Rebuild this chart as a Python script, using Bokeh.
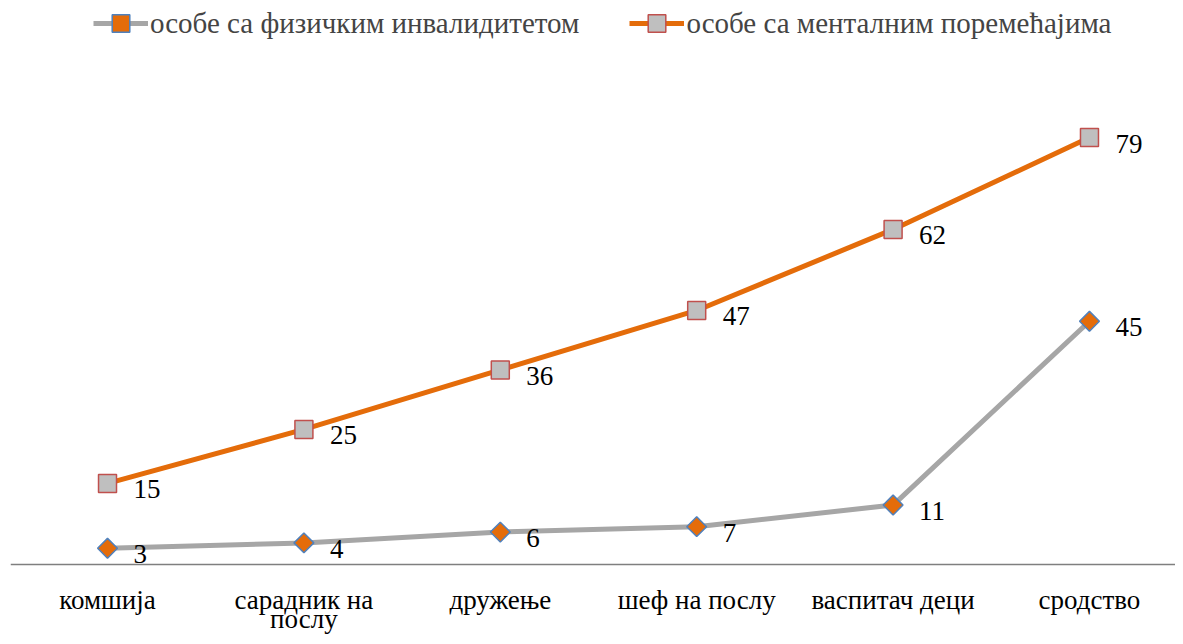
import math
from bokeh.plotting import figure
from bokeh.models import ColumnDataSource, Legend, LegendItem, Range1d, LabelSet, Span
from bokeh.embed import file_html
from bokeh.resources import INLINE

categories = ["комшија", "сарадник на\nпослу", "дружење", "шеф на послу", "васпитач деци", "сродство"]
physical = [3, 4, 6, 7, 11, 45]
mental = [15, 25, 36, 47, 62, 79]
series_names = ["особе са физичким инвалидитетом", "особе са менталним поремећајима"]

FONT = "Liberation Serif"
xs = [i + 0.5 for i in range(len(categories))]
first_lines = [c.split("\n")[0] for c in categories]
second_lines = [c.split("\n")[1] if "\n" in c else "" for c in categories]

p = figure(width=1175, height=636, x_range=Range1d(0.006, 5.938), y_range=Range1d(-13.32, 104.35),
           output_backend="svg", toolbar_location=None,
           min_border_left=10, min_border_right=0, min_border_top=0, min_border_bottom=0)
p.outline_line_color = None
p.grid.visible = False
p.axis.visible = False

# category axis line and labels
p.add_layout(Span(location=0, dimension="width", line_color="#7f7f7f", line_width=1.5))
for lines, off in ((first_lines, -35), (second_lines, -54)):
    cat_src = ColumnDataSource(dict(x=xs, y=[0] * len(xs), t=lines))
    p.add_layout(LabelSet(x="x", y="y", text="t", source=cat_src, y_offset=off,
                          text_font=FONT, text_font_size="27px", text_baseline="middle",
                          text_align="center", text_color="#000000"))

src_p = ColumnDataSource(dict(x=xs, y=physical, t=[str(v) for v in physical]))
src_m = ColumnDataSource(dict(x=xs, y=mental, t=[str(v) for v in mental]))

lm = p.line("x", "y", source=src_m, line_color="#e46c0a", line_width=5)
mm = p.scatter("x", "y", source=src_m, marker="square", size=18, fill_color="#bfbfbf",
               line_color="#c0504d", line_width=1.5)
lp = p.line("x", "y", source=src_p, line_color="#a6a6a6", line_width=5)
mp = p.scatter("x", "y", source=src_p, marker="square", angle=math.pi / 4, size=14,
               fill_color="#e46c0a", line_color="#4f81bd", line_width=1.5)

for src in (src_p, src_m):
    p.add_layout(LabelSet(x="x", y="y", text="t", source=src, x_offset=26, y_offset=-6,
                          text_font=FONT, text_font_size="27px", text_baseline="middle",
                          text_align="left", text_color="#000000"))

legend = Legend(items=[LegendItem(label=series_names[0], renderers=[lp, mp]),
                       LegendItem(label=series_names[1], renderers=[lm, mm])],
                orientation="horizontal", location=(83, 591),
                label_text_font=FONT, label_text_font_size="29px",
                glyph_width=55, glyph_height=44, label_standoff=2, spacing=50,
                border_line_color=None, background_fill_alpha=0, margin=0, padding=2)
p.add_layout(legend)

open("out.html", "w").write(file_html(p, INLINE))
